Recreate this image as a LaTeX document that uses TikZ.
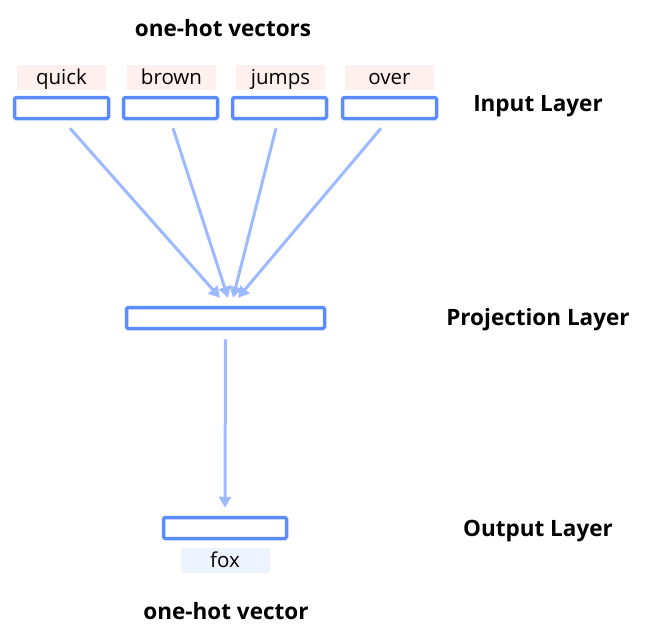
\documentclass[tikz,border=0pt]{standalone}
\usepackage{fontspec}
\setmainfont{Open Sans}
\usetikzlibrary{arrows.meta}
\usetikzlibrary{calc, positioning}

\definecolor{boxblue}{HTML}{5B8CFF}
\definecolor{linkblue}{HTML}{9DB9FF}
\definecolor{wordpink}{HTML}{FFF0F0}
\definecolor{wordblue}{HTML}{EEF4FF}

\tikzset{
    layerbox/.style = {draw = boxblue, line width = 3.5pt, rounded corners = 1.5pt,
                       minimum height = 21pt, inner sep = 0pt},
    wordtag/.style  = {fill = #1, minimum width = 89pt, minimum height = 25pt,
                       inner sep = 0pt, text height = 16pt, text depth = 2pt,
                       font = \fontsize{20.5}{24}\selectfont},
    heading/.style  = {font = \bfseries\fontsize{22.5}{27}\selectfont},
    link/.style     = {draw = linkblue, line width = 3pt,
                       -{Triangle[length = 11pt, width = 12pt]}},
}

\begin{document}
\begin{tikzpicture}[x = 1pt, y = -1pt]

    \useasboundingbox (0,0) rectangle (648,630);

    % input side
    \node[heading] (vecs) at (223,28) {one-hot vectors};

    \node[layerbox, minimum width = 94pt] (in1) at (61.5,108) {};
    \node[layerbox, minimum width = 94pt] (in2) at (170.5,108) {};
    \node[layerbox, minimum width = 94pt] (in3) at (279.5,108) {};
    \node[layerbox, minimum width = 94pt] (in4) at (389.5,108) {};

    \node[wordtag = wordpink] (w1) at (61.5,77.5) {quick};
    \node[wordtag = wordpink] (w2) at (171.5,77.5) {brown};
    \node[wordtag = wordpink] (w3) at (280.5,77.5) {jumps};
    \node[wordtag = wordpink] (w4) at (389.5,77.5) {over};

    \node[heading] (inlab) at (538,106) {Input Layer};

    % projection
    \node[layerbox, minimum width = 198pt] (proj) at (225.5,318) {};
    \node[heading] (projlab) at (538,320) {Projection Layer};

    % output side
    \node[layerbox, minimum width = 123pt] (out) at (225,528) {};
    \node[wordtag = wordblue] (w0) at (225,560) {fox};
    \node[heading] (outlab) at (538,531) {Output Layer};
    \node[heading] (vec) at (226,611) {one-hot vector};

    % connectors
    \foreach \N/\FROM/\TO in {1/8.5/-5.5, 2/2.5/2.5, 3/-3.5/7.5, 4/-8.5/12.5}
        \draw[link] ($(in\N.south)+(\FROM,8)$) -- ($(proj.north)+(\TO,-8)$);

    \draw[link] ($(proj.south)+(0,9)$) -- ($(out.north)+(0,-8)$);

\end{tikzpicture}
\end{document}
